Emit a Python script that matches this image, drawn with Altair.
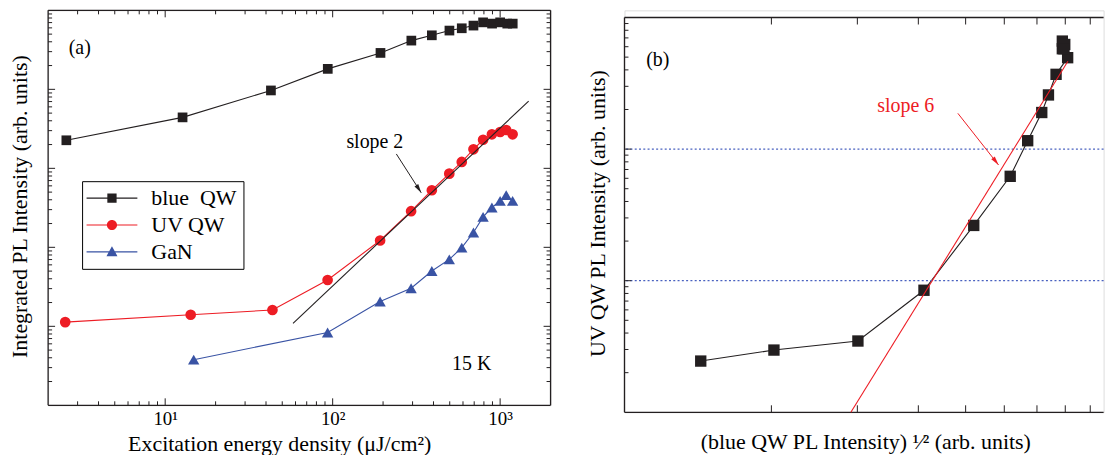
import altair as alt
import pandas as pd

FONT = "Liberation Serif"
BLACK = "#231f20"
RED = "#ed1c24"
BLUE = "#3953a4"
DOT = "#4a62c0"
FS = 20
TFS = 22

# ---------------- panel (a) data ----------------
series_names = ["blue\u00a0 QW", "UV QW", "GaN"]
series_colors = [BLACK, RED, BLUE]
series_shapes = ["square", "circle", "triangle-up"]
series_sizes = [95, 115, 130]

blue_x = [2.57, 12.7, 42.8, 93.5, 193, 295, 391, 498, 590, 693, 791, 895, 1000, 1103, 1189]
blue_y = [2265, 4416, 9683, 18155, 28907, 41400, 48306, 55463, 59293, 64121, 70469, 67920, 70469, 67920, 67920]
uv_x = [2.53, 14.2, 43.7, 93.3, 192, 294, 391, 497, 590, 693, 791, 893, 1000, 1087, 1187]
uv_y = [11.3, 14.0, 16.1, 38.6, 122, 287, 528, 857, 1205, 1742, 2301, 2698, 2884, 3055, 2698]
gan_x = [14.8, 93.3, 192, 294, 391, 497, 590, 693, 791, 893, 1000, 1087, 1187]
gan_y = [3.78, 8.36, 20.6, 30.3, 50.2, 70.3, 98.9, 154, 243, 319, 387, 457, 387]

slope2_x = [58, 1480]
slope2_y = [10.9, 7100]
arrow2_x = [240, 338]
arrow2_y = [1520, 490]

notes_a_text = ["(a)", "slope 2", "15 K"]
notes_a_x = [3.09, 178.6, 676]
notes_a_y = [33650, 2178, 3.32]

a_x_major = [10, 100, 1000]
a_x_minor = [k * 10 ** e for e in (0, 1, 2) for k in range(2, 10) if 2 < k * 10 ** e < 2000]
a_y_major = [10, 100, 1000, 10000]
a_y_minor = [k * 10 ** e for e in (0, 1, 2, 3, 4) for k in range(2, 10)]

# ---------------- panel (b) data ----------------
b_x = [1.433, 2.024, 3.008, 4.108, 5.195, 6.17, 6.70, 7.16, 7.39, 7.66, 8.09, 7.89, 7.98, 7.89, 7.95]
b_y = [0.245, 0.297, 0.348, 0.846, 2.63, 6.21, 11.58, 18.97, 25.8, 37.0, 49.5, 57.9, 62.4, 66.2, 57.9]
slope6_x = [2.91, 8.1]
slope6_y = [0.1, 46.5]
arrow6_x = [4.82, 5.84]
arrow6_y = [18.7, 7.57]
b_hlines = [1, 10]

b_x_ticks = [2, 3, 4, 5, 6, 7, 8, 9]
b_y_major = [1, 10]
b_y_minor = [k * 10 ** e for e in (-1, 0, 1) for k in range(2, 10)]

# ---------------- geometry ----------------
WA, HA = 504.4, 396.5
WB, HB = 481, 403.5
B_TOP = 7.2
xa = alt.Scale(type="log", domain=[2, 2000], nice=False)
ya = alt.Scale(type="log", domain=[1, 100000], nice=False)
xb = alt.Scale(type="log", domain=[1, 10 ** (WB / 490.0)], nice=False)
yb = alt.Scale(type="log", domain=[0.1, 10 ** (-1 + HB / 132.1)], nice=False)

ARROW = "M0,0L0.45,1.8L-0.45,1.8Z"
LINE = "M-5.1,-0.12H5.1V0.12H-5.1Z "
legend_paths = [
    LINE + "M-0.93,-0.93H0.93V0.93H-0.93Z",
    LINE + "M-1.02,0A1.02,1.02 0 1,1 1.02,0A1.02,1.02 0 1,1 -1.02,0Z",
    LINE + "M0,-1.15L1.1,0.85H-1.1Z",
]


def xticks(vals, scale, y0, y1):
    return alt.Chart(pd.DataFrame({"t": vals})).mark_rule(color=BLACK, strokeWidth=1).encode(
        x=alt.X("t:Q", scale=scale), y=alt.value(y0), y2=alt.value(y1))


def yticks(vals, scale, x0, x1):
    return alt.Chart(pd.DataFrame({"t": vals})).mark_rule(color=BLACK, strokeWidth=1).encode(
        y=alt.Y("t:Q", scale=scale), x=alt.value(x0), x2=alt.value(x1))


def hframe(y, w):
    return alt.Chart(pd.DataFrame({"k": [0]})).mark_rule(color=BLACK, strokeWidth=1.3).encode(
        x=alt.value(0), x2=alt.value(w), y=alt.value(y))


def vframe(x, y0, y1):
    return alt.Chart(pd.DataFrame({"k": [0]})).mark_rule(color=BLACK, strokeWidth=1.3).encode(
        x=alt.value(x), y=alt.value(y0), y2=alt.value(y1))


def XA(f="x:Q"):
    return alt.X(f, scale=xa)


def YA(f="y:Q"):
    return alt.Y(f, scale=ya)


def XB(f="x:Q"):
    return alt.X(f, scale=xb)


def YB(f="y:Q"):
    return alt.Y(f, scale=yb)


# ---------------- panel (a) ----------------
rows = []
for name, xs, ys in zip(series_names, [blue_x, uv_x, gan_x], [blue_y, uv_y, gan_y]):
    for i, (xv, yv) in enumerate(zip(xs, ys)):
        rows.append({"x": xv, "y": yv, "series": name, "i": i})
df_a = pd.DataFrame(rows)

axis_ax = alt.Axis(values=a_x_major, ticks=False, domain=False, grid=False,
                   labelExpr="round(log(datum.value)/LN10) == 1 ? '10¹' : (round(log(datum.value)/LN10) == 2 ? '10²' : '10³')",
                   labelFont=FONT, labelFontSize=19, labelColor="black", labelPadding=4,
                   title="Excitation energy density (\u03bcJ/cm²)", titleFont=FONT, titleFontSize=TFS,
                   titleFontWeight="normal", titleColor="black", titleX=232, titleY=45,
                   titleBaseline="alphabetic", titleAlign="center")
axis_ay = alt.Axis(ticks=False, labels=False, domain=False, grid=False,
                   title="Integrated PL Intensity (arb. units)", titleFont=FONT, titleFontSize=TFS,
                   titleFontWeight="normal", titleColor="black", titleAngle=270, titleX=-29,
                   titleY=196.5, titleAlign="center", titleBaseline="middle")

layers_a = []
first = True
for name, col in zip(series_names, series_colors):
    if first:
        enc_x = alt.X("x:Q", scale=xa, axis=axis_ax)
        enc_y = alt.Y("y:Q", scale=ya, axis=axis_ay)
    else:
        enc_x, enc_y = XA(), YA()
    layers_a.append(
        alt.Chart(df_a).transform_filter(alt.datum.series == name).mark_line(color=col, strokeWidth=1.1).encode(
            x=enc_x, y=enc_y, order="i:Q"))
    first = False
layers_a += [
    xticks(a_x_major, xa, HA, HA - 7), xticks(a_x_minor, xa, HA, HA - 4),
    xticks(a_x_major, xa, 0, 7), xticks(a_x_minor, xa, 0, 4),
    yticks(a_y_major, ya, 0, 7), yticks(a_y_minor, ya, 0, 4),
    yticks(a_y_major, ya, WA, WA - 7), yticks(a_y_minor, ya, WA, WA - 4),
    hframe(0, WA), hframe(HA, WA), vframe(0, 0, HA), vframe(WA, 0, HA),
]
for name, col, shp, sz in zip(series_names, series_colors, series_shapes, series_sizes):
    layers_a.append(
        alt.Chart(df_a).transform_filter(alt.datum.series == name).mark_point(
            shape=shp, filled=True, opacity=1, size=sz, color=col).encode(x=XA(), y=YA()))

layers_a.append(alt.Chart(pd.DataFrame({"x": slope2_x, "y": slope2_y})).mark_line(
    color=BLACK, strokeWidth=1.1).encode(x=XA(), y=YA()))
layers_a.append(alt.Chart(pd.DataFrame({"x": arrow2_x, "y": arrow2_y})).mark_line(
    color=BLACK, strokeWidth=1).encode(x=XA(), y=YA()))
layers_a.append(alt.Chart(pd.DataFrame({"x": arrow2_x[1:], "y": arrow2_y[1:]})).mark_point(
    shape=ARROW, filled=True, opacity=1, size=100, angle=147, color=BLACK).encode(x=XA(), y=YA()))
layers_a.append(alt.Chart(pd.DataFrame({"x": notes_a_x, "y": notes_a_y, "t": notes_a_text})).mark_text(
    font=FONT, fontSize=FS, color="black", align="center", baseline="middle").encode(
    x=XA(), y=YA(), text="t:N"))

leg = alt.Legend(title="\u00a0", titleOrient="left", titleFontSize=1, titlePadding=13,
                 orient="none", legendX=34.1, legendY=171.5, direction="vertical",
                 labelFont=FONT, labelFontSize=22, labelColor="black", labelOffset=28.5,
                 symbolSize=100, symbolStrokeWidth=0, symbolOpacity=1, rowPadding=5, padding=6,
                 strokeColor="black", fillColor="white", labelLimit=400)
layers_a.append(alt.Chart(df_a).mark_point(filled=True, opacity=0, size=100).encode(
    x=XA(), y=YA(),
    fill=alt.Fill("series:N", scale=alt.Scale(domain=series_names, range=series_colors), legend=leg),
    shape=alt.Shape("series:N", scale=alt.Scale(domain=series_names, range=legend_paths), legend=leg)))

panel_a = alt.layer(*layers_a).properties(width=WA, height=HA)

# ---------------- panel (b) ----------------
df_b = pd.DataFrame({"x": b_x, "y": b_y, "i": list(range(len(b_x)))})
axis_bx = alt.Axis(ticks=False, labels=False, domain=False, grid=False,
                   title="(blue QW PL Intensity) ¹\u2044²  (arb. units)", titleFont=FONT, titleFontSize=TFS,
                   titleFontWeight="normal", titleColor="black", titleX=241.8, titleY=36,
                   titleBaseline="alphabetic", titleAlign="center")
axis_by = alt.Axis(ticks=False, labels=False, domain=False, grid=False,
                   title="UV QW PL Intensity (arb. units)", titleFont=FONT, titleFontSize=TFS,
                   titleFontWeight="normal", titleColor="black", titleAngle=270, titleX=-26.9,
                   titleY=203.5, titleAlign="center", titleBaseline="middle")

layers_b = [
    alt.Chart(df_b).mark_line(color=BLACK, strokeWidth=1.1).encode(
        x=alt.X("x:Q", scale=xb, axis=axis_bx), y=alt.Y("y:Q", scale=yb, axis=axis_by), order="i:Q"),
    alt.Chart(pd.DataFrame({"h": b_hlines})).mark_rule(color=DOT, strokeWidth=1.3, strokeDash=[2, 2.3]).encode(
        y=YB("h:Q")),
    xticks(b_x_ticks, xb, HB, HB - 7), xticks(b_x_ticks, xb, B_TOP, B_TOP + 7),
    yticks(b_y_major, yb, 0, 7), yticks(b_y_minor, yb, 0, 4),
    hframe(B_TOP, WB), hframe(HB, WB), vframe(0, B_TOP, HB),
    alt.Chart(df_b).mark_point(shape="square", filled=True, opacity=1, size=130, color=BLACK).encode(
        x=XB(), y=YB()),
    alt.Chart(pd.DataFrame({"x": slope6_x, "y": slope6_y})).mark_line(color=RED, strokeWidth=1.1).encode(
        x=XB(), y=YB()),
    alt.Chart(pd.DataFrame({"x": arrow6_x, "y": arrow6_y})).mark_line(color=RED, strokeWidth=1).encode(
        x=XB(), y=YB()),
    alt.Chart(pd.DataFrame({"x": arrow6_x[1:], "y": arrow6_y[1:]})).mark_point(
        shape=ARROW, filled=True, opacity=1, size=100, angle=142, color=RED).encode(x=XB(), y=YB()),
    alt.Chart(pd.DataFrame({"x": [1.17], "y": [47.6], "t": ["(b)"]})).mark_text(
        font=FONT, fontSize=FS, color="black", align="center", baseline="middle").encode(
        x=XB(), y=YB(), text="t:N"),
    alt.Chart(pd.DataFrame({"x": [3.77], "y": [21.3], "t": ["slope 6"]})).mark_text(
        font=FONT, fontSize=FS, color=RED, align="center", baseline="middle").encode(
        x=XB(), y=YB(), text="t:N"),
]
panel_b = alt.layer(*layers_b).properties(width=WB, height=HB)

chart = alt.hconcat(panel_a, panel_b, spacing=33.6).properties(
    padding={"left": 7.3, "top": 7.5, "right": 0, "bottom": 0}, background="white"
).configure_view(stroke=None).configure(font=FONT)

chart.save("out.html", embed_options={"renderer": "svg", "actions": False})
